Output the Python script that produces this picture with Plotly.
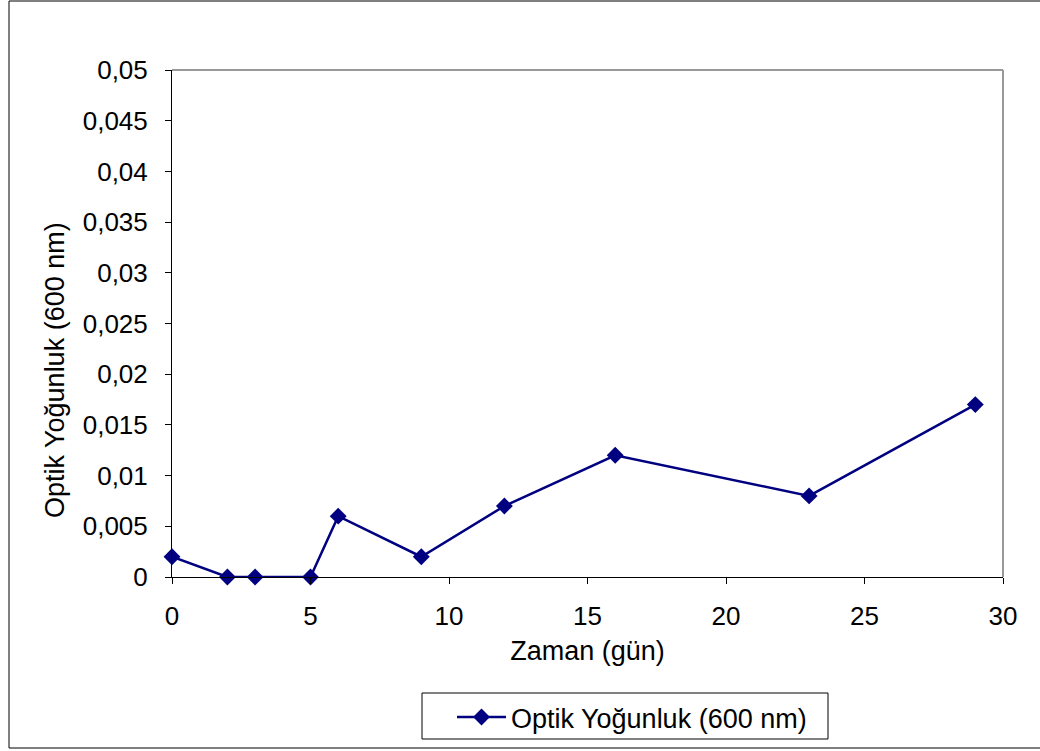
import plotly.graph_objects as go

# Optical density readings over time
days = [0, 2, 3, 5, 6, 9, 12, 16, 23, 29]
optical_density = [0.002, 0.0, 0.0, 0.0, 0.006, 0.002, 0.007, 0.012, 0.008, 0.017]
series_name = "Optik Yoğunluk (600 nm)"
x_title = "Zaman (gün)"
y_title = "Optik Yoğunluk (600 nm)"

W, H = 1040, 751
L, R, T, B = 172, 1003, 70, 577  # plot area in pixels

def px_x(px):
    return (px - L) / (R - L)

def px_y(py):
    return (B - py) / (B - T)

fig = go.Figure()
fig.add_trace(go.Scatter(
    x=days, y=optical_density, name=series_name,
    mode="lines+markers",
    line=dict(color="#000080", width=2.5),
    marker=dict(symbol="diamond", size=13, color="#000080"),
    cliponaxis=False,
))

family = "Liberation Sans, Arial, sans-serif"
tick_font = dict(family=family, size=26, color="black")
title_font = dict(family=family, size=27, color="black")

fig.update_layout(
    width=W, height=H,
    margin=dict(l=L, r=W - R, t=T, b=H - B, autoexpand=False),
    paper_bgcolor="white", plot_bgcolor="white",
    separators=",.",
    font=tick_font,
    showlegend=True,
    legend=dict(
        xref="paper", yref="paper",
        x=px_x(422), y=px_y(693), xanchor="left", yanchor="top",
        borderwidth=0, bgcolor="rgba(0,0,0,0)",
        font=title_font, itemwidth=49, indentation=30,
    ),
    xaxis=dict(
        range=[0, 30], dtick=5, tick0=0,
        showline=True, linecolor="black", linewidth=1,
        ticks="outside", ticklen=6, tickcolor="black",
        ticklabelstandoff=10,
        showgrid=False, zeroline=False,
        title=dict(text=x_title, font=title_font, standoff=10),
        tickfont=tick_font,
    ),
    yaxis=dict(
        range=[0, 0.05], dtick=0.005, tick0=0,
        showline=True, linecolor="black", linewidth=1,
        ticks="outside", ticklen=6, tickcolor="black",
        ticklabelstandoff=12,
        showgrid=False, zeroline=False,
        tickfont=tick_font,
    ),
    annotations=[
        dict(text=y_title, textangle=-90, font=title_font, showarrow=False,
             xref="paper", yref="paper", x=px_x(55), y=px_y(370),
             xanchor="center", yanchor="middle"),
    ],
    shapes=[
        # grey top and right frame of the plot area
        dict(type="line", xref="paper", yref="paper", x0=0, x1=1, y0=1, y1=1,
             line=dict(color="#999999", width=2)),
        dict(type="line", xref="paper", yref="paper", x0=1, x1=1, y0=0, y1=1,
             line=dict(color="#999999", width=2)),
        # legend frame
        dict(type="rect", xref="paper", yref="paper",
             x0=px_x(422), x1=px_x(828), y0=px_y(739), y1=px_y(693),
             line=dict(color="black", width=1)),
        # outer chart border
        dict(type="rect", xref="paper", yref="paper",
             x0=px_x(9), x1=px_x(1045), y0=px_y(748), y1=px_y(1),
             line=dict(color="black", width=1)),
    ],
)

fig.write_html("out.html")
